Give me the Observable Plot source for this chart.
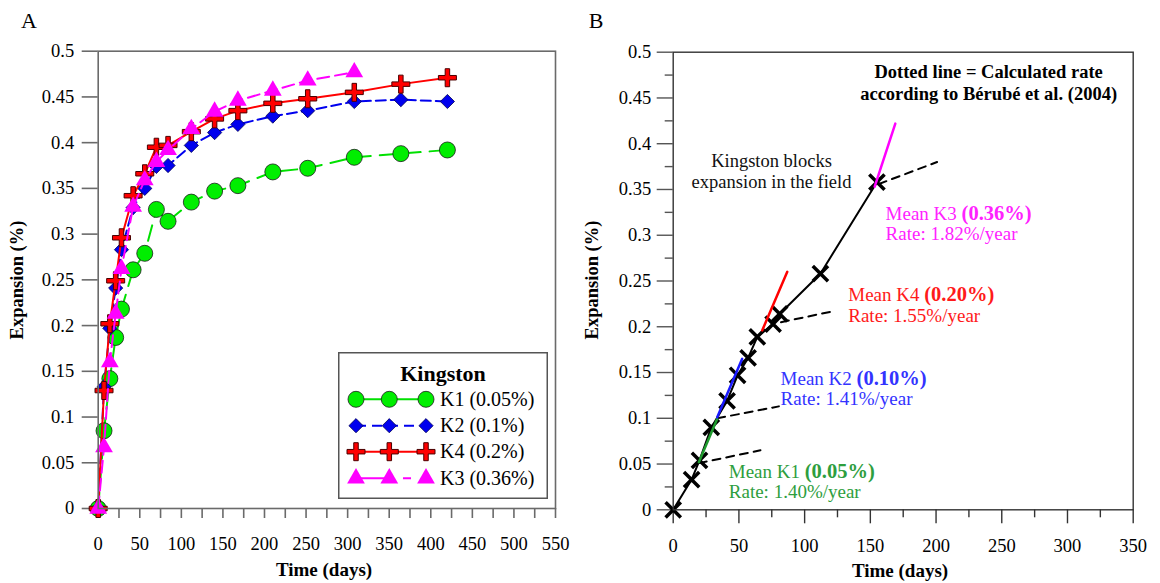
<!DOCTYPE html>
<html><head><meta charset="utf-8">
<script src="https://cdn.jsdelivr.net/npm/d3@7"></script>
<script src="https://cdn.jsdelivr.net/npm/@observablehq/plot@0.6"></script>
<style>
body{margin:0;background:#fff;}
#wrap{position:relative;width:1160px;height:583px;font-family:"Liberation Serif","Times New Roman",serif;color:#000;overflow:hidden;background:#fff}
.abs{position:absolute;white-space:nowrap;line-height:1}
</style></head><body><div id="wrap"></div>
<script>
// ---------- Panel A data (Kingston, lab expansion) ----------
const days = [0,7,14,21,28,42,56,70,84,112,140,168,210,252,308,364,420];
const k1 = [0,0.085,0.142,0.187,0.218,0.261,0.279,0.327,0.314,0.335,0.347,0.353,0.368,0.372,0.384,0.388,0.392];
const k2 = [0,0.133,0.197,0.241,0.283,0.329,0.350,0.374,0.375,0.397,0.411,0.420,0.429,0.435,0.445,0.447,0.445];
const k4 = [0,0.129,0.202,0.249,0.296,0.342,0.366,0.395,0.397,0.412,0.426,0.435,0.443,0.448,0.455,0.464,0.471];
const k3 = [0,0.067,0.160,0.213,0.262,0.330,0.359,0.379,0.392,0.415,0.434,0.446,0.457,0.468,0.477];
const seriesNames = ["K1","K2","K4","K3"];
const seriesLabels = ["K1 (0.05%)","K2 (0.1%)","K4 (0.2%)","K3 (0.36%)"];
const yTicks = [0,0.05,0.1,0.15,0.2,0.25,0.3,0.35,0.4,0.45,0.5];
const yMinorB = [0.025,0.075,0.125,0.175,0.225,0.275,0.325,0.375,0.425,0.475];
const xTicksA = [0,50,100,150,200,250,300,350,400,450,500,550];
const xMinorA = [25,75,125,175,225,275,325,375,425,475,525];
const xTicksB = [0,50,100,150,200,250,300,350];
const xMinorB = [25,75,125,175,225,275,325];

// ---------- Panel B data (Kingston blocks in the field) ----------
const fieldDays = [0,14,20,29,41,49,57,64,76,81,112,155];
const fieldExp = [0,0.033,0.054,0.090,0.119,0.147,0.166,0.189,0.203,0.214,0.258,0.358];
const rateNames = ["K1","K2","K4","K3"];
const meanStartDay = [19.5,33.5,67.7,153.3];
const meanStartExp = [0.052,0.101,0.196,0.353];
const meanEndDay = [33.5,52.5,86.8,169];
const meanEndExp = [0.0995,0.165,0.260,0.422];
const calcStartDay = [19.5,33.5,82,156.5];
const calcStartExp = [0.051,0.100,0.205,0.356];
const calcEndDay = [66.4,80.4,122,200.8];
const calcEndExp = [0.065,0.113,0.217,0.380];
const meanLabels = ["Mean K1","Mean K2","Mean K4","Mean K3"];
const meanValues = ["(0.05%)","(0.10%)","(0.20%)","(0.36%)"];
const rateLabels = ["Rate: 1.40%/year","Rate: 1.41%/year","Rate: 1.55%/year","Rate: 1.82%/year"];
const labelDay = [42.3,81.7,133.2,161.6];
const labelExp = [0.0418,0.1431,0.2349,0.3236];
const rateExp = [0.020,0.1213,0.2123,0.3016];
const noteField = "Kingston blocks\nexpansion in the field";
const noteFieldDay = [74.8], noteFieldExp = [0.370];
const noteCalc = "Dotted line = Calculated rate\naccording to Bérubé et al. (2004)";
const noteCalcDay = [240], noteCalcExp = [0.468];

// ---------- styles ----------
const serif = '"Liberation Serif","Times New Roman",serif';
const thinPlus = {draw(ctx, size) {
  const r = Math.sqrt(size / Math.PI), t = r * 0.25;
  ctx.moveTo(-r,-t); ctx.lineTo(-t,-t); ctx.lineTo(-t,-r); ctx.lineTo(t,-r); ctx.lineTo(t,-t);
  ctx.lineTo(r,-t); ctx.lineTo(r,t); ctx.lineTo(t,t); ctx.lineTo(t,r); ctx.lineTo(-t,r);
  ctx.lineTo(-t,t); ctx.lineTo(-r,t); ctx.closePath();
}};
const styleA = {
  K1:{fill:"#00ee00", stroke:"#1a1a1a", line:"#00e000", symbol:d3.symbolCircle, r:8, dash:"16,9", legDash:null, sw:0.8},
  K2:{fill:"#0000ee", stroke:"#000055", line:"#0000ee", symbol:d3.symbolDiamond2, r:6.4, dash:"10,5", legDash:"10,6", sw:0.8},
  K4:{fill:"#ff0000", stroke:"#4a0000", line:"#ff0000", symbol:thinPlus, r:9, dash:null, legDash:null, sw:1},
  K3:{fill:"#ff00ff", stroke:"none", line:"#ff00ff", symbol:d3.symbolTriangle, r:6.6, dash:"12,6", legDash:"31,16,8,30", sw:0}
};
const colorB = {K1:"#1f9a2e", K2:"#1a1aff", K4:"#ff0000", K3:"#ff00ff"};
const textB = {K1:"#2e9e3e", K2:"#3333ff", K4:"#ff1a1a", K3:"#ff22ff"};
const fmt = d => d3.format("~g")(d);

const wrap = document.getElementById("wrap");
const series = {K1:k1, K2:k2, K4:k4, K3:k3};
const rowsA = seriesNames.flatMap(n => series[n].map((v,i) => ({series:n, day:days[i], exp:v})));

// ---------- Panel A ----------
const marksA = [];
for (const n of seriesNames) {
  const s = styleA[n];
  const data = rowsA.filter(d => d.series === n);
  marksA.push(Plot.line(data, {x:"day", y:"exp", stroke:s.line, strokeWidth:2, strokeDasharray:s.dash || undefined}));
  marksA.push(Plot.dot(data, {x:"day", y:"exp", symbol:s.symbol, r:s.r, fill:s.fill, stroke:s.stroke, strokeWidth:s.sw}));
}
const plotA = Plot.plot({
  width:580, height:583,
  marginLeft:97.7, marginRight:25, marginTop:50.7, marginBottom:75,
  x:{domain:[0,550]}, y:{domain:[0,0.5]},
  style:{fontFamily:serif, fontSize:"18.5px", color:"#000", background:"transparent", overflow:"visible"},
  marks:[
    Plot.axisY({ticks:yTicks, tickSize:16, tickPadding:8, tickFormat:fmt, label:null, stroke:"#6a6a6a", strokeWidth:1.6}),
    Plot.axisX({ticks:xTicksA, tickSize:10, tickPadding:18, tickFormat:fmt, label:null, stroke:"#6a6a6a", strokeWidth:1.6}),
    Plot.axisX({ticks:xMinorA, tickSize:10, tickFormat:() => "", label:null, stroke:"#6a6a6a", strokeWidth:1.6}),
    ...marksA,
    Plot.frame({stroke:"#6a6a6a", strokeWidth:1.6})
  ]
});
plotA.style.position = "absolute"; plotA.style.left = "0px"; plotA.style.top = "0px";
wrap.appendChild(plotA);

// ---------- Panel A legend ----------
const leg = d3.create("svg").attr("width",210).attr("height",147)
  .style("position","absolute").style("left","338px").style("top","352px")
  .style("font-family",serif);
leg.append("rect").attr("x",0.75).attr("y",0.75).attr("width",208.5).attr("height",145.5)
  .attr("fill","#fff").attr("stroke","#555").attr("stroke-width",1.5);
leg.append("text").attr("x",105).attr("y",21).attr("dy","0.35em").attr("text-anchor","middle")
  .attr("font-weight","bold").attr("font-size",22).text("Kingston");
const rowY = [47.3,73.7,99.7,126.3];
const sx = [18,51.3,88];
seriesNames.forEach((n,i) => {
  const s = styleA[n], y = rowY[i];
  leg.append("line").attr("x1",sx[0]).attr("x2",sx[2]).attr("y1",y).attr("y2",y)
    .attr("stroke",s.line).attr("stroke-width",2).attr("stroke-dasharray",s.legDash);
  sx.forEach(x => leg.append("path").attr("d", d3.symbol(s.symbol, s.r*s.r*Math.PI)())
    .attr("transform",`translate(${x},${y})`).attr("fill",s.fill).attr("stroke",s.stroke).attr("stroke-width",s.sw));
  leg.append("text").attr("x",102).attr("y",y).attr("dy","0.33em").attr("font-size",20).text(seriesLabels[i]);
});
wrap.appendChild(leg.node());

// ---------- Panel B ----------
const fieldRows = fieldDays.map((d,i) => ({day:d, exp:fieldExp[i]}));
const seg = (sd,se,ed,ee,i) => [{day:sd[i], exp:se[i]},{day:ed[i], exp:ee[i]}];
const cv = document.createElement("canvas").getContext("2d");
cv.font = `19px ${serif}`;
const boldDx = cv.measureText("Mean K3 ").width;
const marksB = [
  Plot.axisY({ticks:yTicks, tickSize:16, tickPadding:6, tickFormat:fmt, label:null, stroke:"#555", strokeWidth:1.4}),
  Plot.axisY({ticks:yMinorB, tickSize:8, tickFormat:() => "", label:null, stroke:"#555", strokeWidth:1.4}),
  Plot.axisX({ticks:xTicksB, tickSize:14, tickPadding:15, tickFormat:fmt, label:null, stroke:"#333", strokeWidth:1.4}),
  Plot.axisX({ticks:xMinorB, tickSize:8, tickFormat:() => "", label:null, stroke:"#333", strokeWidth:1.4}),
  Plot.line(fieldRows, {x:"day", y:"exp", stroke:"#000", strokeWidth:2})
];
rateNames.forEach((n,i) => {
  marksB.push(Plot.line(seg(calcStartDay,calcStartExp,calcEndDay,calcEndExp,i), {x:"day", y:"exp", stroke:"#000", strokeWidth:2, strokeDasharray:"8,6"}));
});
marksB.push(Plot.dot(fieldRows, {x:"day", y:"exp", symbol:"times", r:7, stroke:"#000", strokeWidth:3.5}));
rateNames.forEach((n,i) => {
  marksB.push(Plot.line(seg(meanStartDay,meanStartExp,meanEndDay,meanEndExp,i), {x:"day", y:"exp", stroke:colorB[n], strokeWidth:2.5}));
});
const labRows = rateNames.map((n,i) => ({g:n, day:labelDay[i], exp:labelExp[i], rexp:rateExp[i], mean:meanLabels[i], val:meanValues[i], rate:rateLabels[i]}));
rateNames.forEach((n,i) => {
  const d = [labRows[i]];
  marksB.push(Plot.text(d, {x:"day", y:"exp", text:"mean", textAnchor:"start", lineAnchor:"middle", fill:textB[n], fontSize:19}));
  marksB.push(Plot.text(d, {x:"day", y:"exp", text:"val", textAnchor:"start", lineAnchor:"middle", fill:textB[n], fontSize:20.5, fontWeight:"bold", dx:boldDx}));
  marksB.push(Plot.text(d, {x:"day", y:"rexp", text:"rate", textAnchor:"start", lineAnchor:"middle", fill:textB[n], fontSize:19}));
});
marksB.push(Plot.text([noteField], {x:() => noteFieldDay[0], y:() => noteFieldExp[0], text:d => d, textAnchor:"middle", lineAnchor:"middle", fontSize:18.5, lineHeight:1.14, fill:"#111"}));
marksB.push(Plot.text([noteCalc], {x:() => noteCalcDay[0], y:() => noteCalcExp[0], text:d => d, textAnchor:"middle", lineAnchor:"middle", fontSize:18.5, fontWeight:"bold", lineHeight:1.19, fill:"#000"}));
marksB.push(Plot.frame({stroke:"#333", strokeWidth:1.4}));

const plotB = Plot.plot({
  width:580, height:583,
  marginLeft:92.7, marginRight:27.3, marginTop:51.7, marginBottom:73.7,
  x:{domain:[0,350]}, y:{domain:[0,0.5]},
  style:{fontFamily:serif, fontSize:"18.5px", color:"#000", background:"transparent", overflow:"visible"},
  marks:marksB
});
plotB.style.position = "absolute"; plotB.style.left = "580px"; plotB.style.top = "0px";
wrap.appendChild(plotB);

// ---------- titles ----------
function addText(txt, x, y, opts) {
  const el = document.createElement("div");
  el.className = "abs";
  el.textContent = txt;
  el.style.fontSize = opts.size + "px";
  el.style.fontWeight = opts.bold ? "bold" : "normal";
  el.style.left = x + "px"; el.style.top = y + "px";
  el.style.transform = `translate(-50%,-50%)${opts.rotate ? " rotate(-90deg)" : ""}`;
  wrap.appendChild(el);
}
addText("A", 29, 21, {size:22});
addText("B", 596, 21, {size:22});
addText("Expansion (%)", 17, 280, {size:18.5, bold:true, rotate:true});
addText("Expansion (%)", 592, 280, {size:18.5, bold:true, rotate:true});
addText("Time (days)", 324, 569, {size:19, bold:true});
addText("Time (days)", 900, 570, {size:19, bold:true});
</script></body></html>
